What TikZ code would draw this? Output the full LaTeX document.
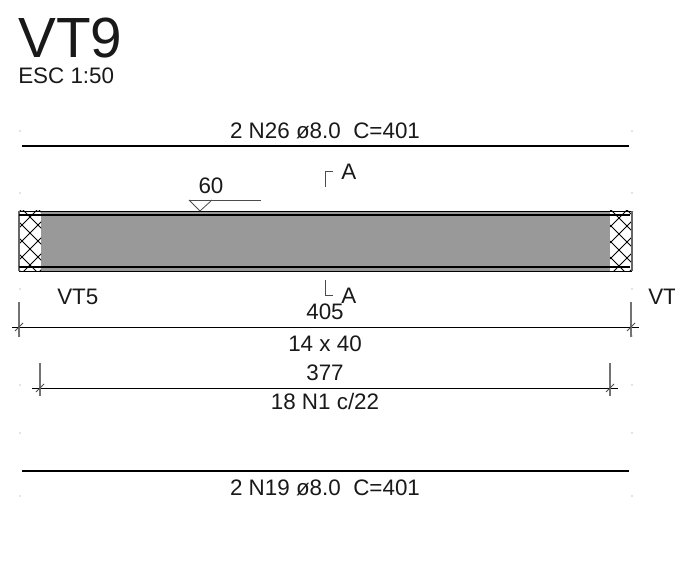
\documentclass[tikz,border=0pt]{standalone}
\usepackage{fontspec}
\setmainfont{Liberation Sans}
\begin{document}
\begin{tikzpicture}[x=0.75pt, y=-0.75pt]
	\tikzset{lbl/.style={inner sep=0pt, text=black!90, font=\fontsize{16.8}{19}\selectfont}};
	\tikzset{title/.style={inner sep=0pt, text=black!90, font=\fontsize{42.5}{45}\selectfont}};
	\tikzset{rebar/.style={black, line width=1pt}};
	\tikzset{dim/.style={black, line width=0.7pt}};
	\tikzset{ext/.style={black!55, line width=0.8pt}};
	\tikzset{thinline/.style={black!70, line width=0.6pt}};
	\tikzset{hatchline/.style={black, line width=0.6pt}};
	\tikzset{spot/.style={circle, fill=black!45, inner sep=0pt, minimum size=1pt}};

	\useasboundingbox (0, 0) rectangle (675, 573);

	% beam
	\fill[black!40] (41, 211) rectangle (610, 271);
	\begin{scope}
		\clip (19, 211) rectangle (41, 271);
		\foreach \k in {-3, ..., 6} {
			\draw[hatchline] (19, 206 + 16*\k) -- ++(40, 40);
			\draw[hatchline] (19, 228 + 16*\k) -- ++(40, -40);
		}
	\end{scope}
	\begin{scope}
		\clip (610, 211) rectangle (632, 271);
		\foreach \k in {-3, ..., 6} {
			\draw[hatchline] (610, 209 + 16*\k) -- ++(40, 40);
			\draw[hatchline] (610, 227 + 16*\k) -- ++(40, -40);
		}
	\end{scope}
	\draw[black, line width=0.7pt] (19, 211) -- (632, 211);
	\draw[black, line width=0.7pt] (19, 271) -- (632, 271);
	\draw[black!60, line width=0.8pt] (19, 211) -- (19, 271);
	\draw[black!60, line width=0.8pt] (632, 211) -- (632, 271);
	\draw[black, line width=0.8pt] (19, 215) -- (630, 215);
	\draw[black, line width=0.8pt] (19, 267) -- (630, 267);

	% texts
	\node[title, anchor=base west] (vt9) at (18, 58) {VT9};
	\node[lbl, anchor=base west] (esc) at (18, 83.5) {ESC 1:50};
	\node[lbl, anchor=base] (n26) at (325, 139) {2 N26 ø8.0\ \ C=401};
	\node[lbl, anchor=base] (sixty) at (211, 194) {60};
	\node[lbl, anchor=base west] (a1) at (341, 180) {A};
	\node[lbl, anchor=base west] (a2) at (341, 304) {A};
	\node[lbl, anchor=base west] (vt5) at (57, 305) {VT5};
	\node[lbl, anchor=base west] (vt) at (648, 305) {VT};
	\node[lbl, anchor=base] (l405) at (325, 320) {405};
	\node[lbl, anchor=base] (l14) at (325, 352) {14 x 40};
	\node[lbl, anchor=base] (l377) at (325, 381) {377};
	\node[lbl, anchor=base] (l18) at (325, 410) {18 N1 c/22};
	\node[lbl, anchor=base] (n19) at (325, 496) {2 N19 ø8.0\ \ C=401};

	% top and bottom bars
	\coordinate (t1) at (22, 146);
	\coordinate (t2) at (629, 146);
	\coordinate (b1) at (22, 471);
	\coordinate (b2) at (629, 471);
	\draw[rebar] (t1) to (t2);
	\draw[rebar] (b1) to (b2);

	% weld symbol
	\coordinate (w1) at (189, 200);
	\coordinate (w2) at (212, 200);
	\coordinate (w3) at (200, 211);
	\coordinate (w4) at (261, 200);
	\draw[thinline] (w1) to (w2);
	\draw[thinline] (w1) to (w3);
	\draw[thinline] (w3) to (w2);
	\draw[thinline] (w2) to (w4);

	% section marks
	\coordinate (s1) at (325, 187);
	\coordinate (s2) at (325, 171);
	\coordinate (s3) at (333, 171);
	\coordinate (s4) at (325, 280);
	\coordinate (s5) at (325, 295);
	\coordinate (s6) at (333, 295);
	\draw[thinline] (s1) to (s2);
	\draw[thinline] (s2) to (s3);
	\draw[thinline] (s4) to (s5);
	\draw[thinline] (s5) to (s6);

	% dimension 405
	\coordinate (d1) at (12, 327);
	\coordinate (d2) at (639, 327);
	\coordinate (d3) at (19, 302);
	\coordinate (d4) at (19, 337);
	\coordinate (d5) at (631, 302);
	\coordinate (d6) at (631, 337);
	\draw[dim] (d1) to (d2);
	\draw[ext] (d3) to (d4);
	\draw[ext] (d5) to (d6);
	\draw[thinline] (15, 331) -- (23, 323);
	\draw[thinline] (627, 331) -- (635, 323);

	% dimension 377
	\coordinate (e1) at (32, 388);
	\coordinate (e2) at (618, 388);
	\coordinate (e3) at (40, 363);
	\coordinate (e4) at (40, 396);
	\coordinate (e5) at (610, 363);
	\coordinate (e6) at (610, 396);
	\draw[dim] (e1) to (e2);
	\draw[ext] (e3) to (e4);
	\draw[ext] (e5) to (e6);
	\draw[thinline] (36, 392) -- (44, 384);
	\draw[thinline] (606, 392) -- (614, 384);

	% small ticks
	\foreach \y in {131, 193, 289, 336, 385, 433, 496} {
		\node[spot] (left\y) at (20, \y) {};
		\node[spot] (right\y) at (632, \y) {};
	}
\end{tikzpicture}
\end{document}
